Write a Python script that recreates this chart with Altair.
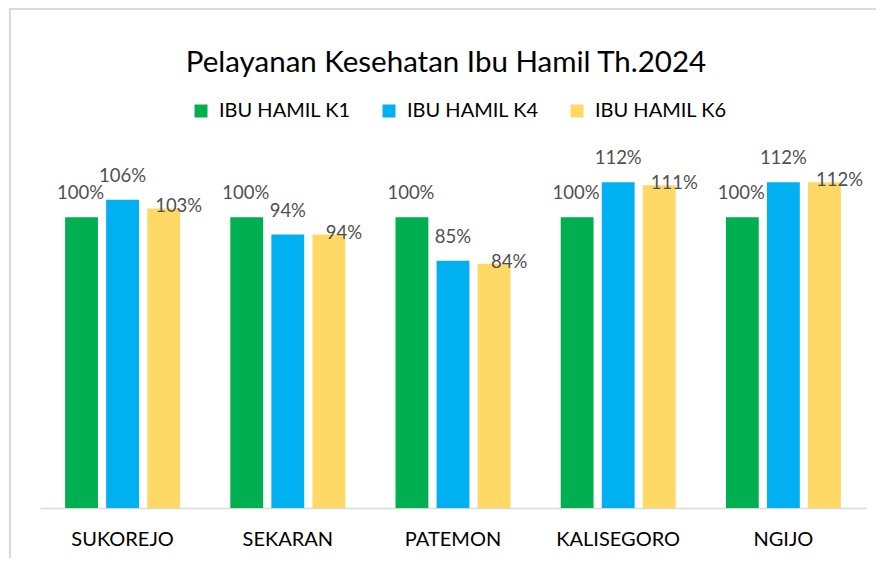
import altair as alt
import pandas as pd

categories = ["SUKOREJO", "SEKARAN", "PATEMON", "KALISEGORO", "NGIJO"]
series = ["IBU HAMIL K1", "IBU HAMIL K4", "IBU HAMIL K6"]
k1 = [1.00, 1.00, 1.00, 1.00, 1.00]
k4 = [1.06, 0.94, 0.85, 1.12, 1.12]
k6 = [1.03, 0.94, 0.84, 1.11, 1.12]
colors = ["#00B050", "#00B0F0", "#FFD966"]

rows = []
for s, vals in zip(series, [k1, k4, k6]):
    for c, v in zip(categories, vals):
        rows.append({"desa": c, "seri": s, "nilai": v})
df = pd.DataFrame(rows)

W, H = 826, 349
FONT = "Lato"

x_enc = alt.X("desa:N", sort=categories,
              scale=alt.Scale(paddingInner=0.304, paddingOuter=0.152),
              axis=alt.Axis(title=None, labelAngle=0, ticks=False, domainColor="#D9D9D9",
                            domainWidth=1.5, labelFontSize=20, labelColor="#000000",
                            labelPadding=21, labelFont=FONT))
y_enc = alt.Y("nilai:Q", scale=alt.Scale(domain=[0, 1.2]), axis=None)
xo = alt.XOffset("seri:N", sort=series, scale=alt.Scale(paddingInner=0.2, paddingOuter=0))

base = alt.Chart(df)

bars = base.mark_bar().encode(
    x=x_enc, y=y_enc, xOffset=xo,
    color=alt.Color("seri:N", sort=series, scale=alt.Scale(domain=series, range=colors),
                    legend=alt.Legend(title=None, orient="none", legendX=151, legendY=-58,
                                      direction="horizontal", columns=3, symbolType="square",
                                      symbolSize=169, symbolStrokeWidth=0, labelFontSize=20,
                                      labelFont=FONT, labelColor="#000000", labelOffset=8,
                                      columnPadding=28)),
)

def labels(s, dx, dy):
    return base.transform_filter(alt.datum.seri == s).mark_text(
        fontSize=18.5, font=FONT, color="#505050", baseline="middle", align="center", dx=dx, dy=dy
    ).encode(x=x_enc, y=y_enc, xOffset=xo, text=alt.Text("nilai:Q", format=".0%"))

border = alt.Chart(pd.DataFrame({"a": [0]})).mark_rect(
    fill=None, stroke="#D9D9D9", strokeWidth=2
).encode(x=alt.value(-30), x2=alt.value(W + 40), y=alt.value(-150), y2=alt.value(H + 80))

chart = alt.layer(
    border, bars,
    labels(series[0], -1, -24), labels(series[1], 0, -24), labels(series[2], 15, -2),
).properties(
    width=W, height=H,
    title=alt.TitleParams("Pelayanan Kesehatan Ibu Hamil Th.2024", fontSize=29.5, font=FONT,
                          fontWeight="normal", color="#000000", anchor="middle", offset=-70,
                          dx=-7),
    autosize=alt.AutoSizeParams(type="none"),
    padding={"left": 32, "top": 151, "right": 10, "bottom": 50},
).configure_view(stroke=None)

chart.save("out.html", embed_options={"renderer": "svg", "actions": False})
